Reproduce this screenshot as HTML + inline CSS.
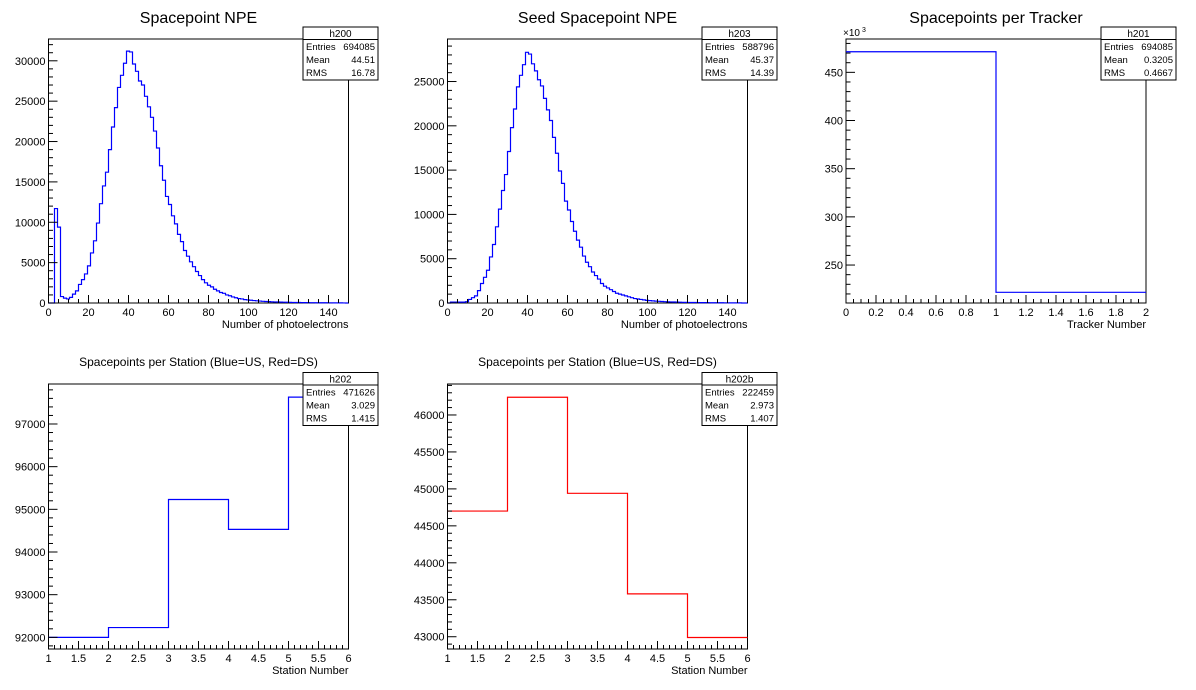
<!DOCTYPE html>
<html><head><meta charset="utf-8">
<style>
html,body{margin:0;padding:0;background:#fff;}
svg{display:block;font-family:"Liberation Sans",Arial,sans-serif;}
</style></head>
<body>
<svg id="canvas" width="1196" height="690" viewBox="0 0 1196 690" xmlns="http://www.w3.org/2000/svg"></svg>
<script>
// ---- data ----
const npeValues = [0,0,11700,9400,800,600,500,700,1100,1500,2300,2900,3600,4600,6200,7700,9900,12300,14500,16200,19000,21800,24200,26700,28200,29700,31200,31100,29600,28700,27500,27000,25600,24300,23000,21300,19200,17000,15200,13200,12200,10800,9800,8500,7600,6500,5800,5100,4500,3900,3400,2900,2500,2200,2000,1700,1500,1300,1200,1000,900,750,650,550,500,420,380,340,300,270,240,210,190,170,150,130,120,110,100,90,80,70,65,60,55,50,45,40,38,35,32,30,28,25,22,20,18,15,10,0];
const seedNpeValues = [0,100,100,100,100,100,150,400,600,800,1400,2200,2900,3700,5200,6600,8600,10600,12700,14500,17100,19800,21900,24400,25700,26900,28300,28100,27000,26200,25200,24500,23100,21800,20600,18700,16900,14900,13500,11500,10500,9200,8100,7100,6300,5300,4600,4100,3500,3100,2700,2200,1900,1700,1500,1300,1100,1000,900,800,700,600,500,450,400,350,300,270,240,210,190,170,150,130,120,110,100,90,80,70,65,60,55,50,45,40,38,35,32,30,28,25,22,20,18,15,12,10,0,0];
const trackerValues = [471.4, 221.7];
const stationUSValues = [92000, 92230, 95230, 94530, 97630];
const stationDSValues = [44700, 46240, 44940, 43580, 42990];
const npeXTicks = [0,20,40,60,80,100,120,140];
const npeYTicks = [0,5000,10000,15000,20000,25000,30000];
const seedYTicks = [0,5000,10000,15000,20000,25000];
const trackerXTicks = [0,0.2,0.4,0.6,0.8,1,1.2,1.4,1.6,1.8,2];
const trackerYTicks = [250,300,350,400,450];
const stationXTicks = [1,1.5,2,2.5,3,3.5,4,4.5,5,5.5,6];
const usYTicks = [92000,93000,94000,95000,96000,97000];
const dsYTicks = [43000,43500,44000,44500,45000,45500,46000];
const statsH200 = ["h200","694085","44.51","16.78"];
const statsH203 = ["h203","588796","45.37","14.39"];
const statsH201 = ["h201","694085","0.3205","0.4667"];
const statsH202 = ["h202","471626","3.029","1.415"];
const statsH202b = ["h202b","222459","2.973","1.407"];

const NS = "http://www.w3.org/2000/svg";
const svg = document.getElementById('canvas');
function mk(tag, attrs, parent, text){
  const e = document.createElementNS(NS, tag);
  for (const k in attrs) e.setAttribute(k, attrs[k]);
  if (text !== undefined) e.textContent = text;
  (parent||svg).appendChild(e);
  return e;
}

function drawPad(c){
  const g = mk('g', {});
  
  
  const fx = c.frame[0], fy = c.frame[1], fw = c.frame[2], fh = c.frame[3];
  const sx = v => fx + (v - c.xmin) / (c.xmax - c.xmin) * fw;
  const sy = v => fy + fh - (v - c.ymin) / (c.ymax - c.ymin) * fh;
  // title
  const t = mk('text', {x: fx + fw/2, y: c.titleY, 'text-anchor':'middle', 'font-size': c.titleSize, fill:'#000'}, g, c.title);
  
  
  // frame
  const fr = mk('rect', {x: fx, y: fy, width: fw, height: fh, fill:'none', stroke:'#000', 'stroke-width':1}, g);
  
  
  // histogram path
  const n = c.values.length, bw = (c.xmax - c.xmin) / n;
  const clampY = v => Math.max(fy, Math.min(fy+fh, sy(v)));
  let d = '';
  for (let i = 0; i < n; i++){
    const x0 = sx(c.xmin + (c.x0off||0) + i*bw), x1 = sx(c.xmin + (i+1)*bw), y = clampY(c.values[i]);
    d += (i === 0 ? 'M' : 'L') + x0.toFixed(2) + ',' + y.toFixed(2) + 'L' + x1.toFixed(2) + ',' + y.toFixed(2);
  }
  const p = mk('path', {d: d, fill:'none', stroke: c.color, 'stroke-width': 1.2}, g);
  
  
  // x ticks
  const xa = mk('g', {}, g);
  
  
  const xstep = c.xTicks[1] - c.xTicks[0];
  const xminor = xstep / c.xSub;
  for (let v = c.xmin; v <= c.xmax + 1e-9; v += xminor){
    const isMaj = c.xTicks.some(tk => Math.abs(tk - v) < 1e-6);
    const X = sx(v);
    mk('line', {x1: X, x2: X, y1: fy+fh, y2: fy+fh-(isMaj?8:4), stroke:'#000', 'stroke-width':1}, xa);
  }
  c.xTicks.forEach(v => {
    const lb = mk('text', {x: sx(v), y: fy+fh+13, 'text-anchor':'middle', 'font-size':11, fill:'#000'}, xa, String(v));
    
    
  });
  const xt = mk('text', {x: fx+fw, y: fy+fh+25, 'text-anchor':'end', 'font-size':11, fill:'#000'}, xa, c.xTitle);
  
  
  // y ticks
  const ya = mk('g', {}, g);
  
  
  const ystep = c.yTicks[1] - c.yTicks[0];
  const yminor = ystep / c.ySub;
  const start = c.yTicks[0] - Math.floor((c.yTicks[0]-c.ymin)/yminor)*yminor;
  for (let v = start; v <= c.ymax + 1e-9; v += yminor){
    const isMaj = c.yTicks.some(tk => Math.abs(tk - v) < 1e-6);
    const Y = sy(v);
    mk('line', {x1: fx, x2: fx+(isMaj?9:4.5), y1: Y, y2: Y, stroke:'#000', 'stroke-width':1}, ya);
  }
  c.yTicks.forEach(v => {
    const lb = mk('text', {x: fx-3, y: sy(v)+4, 'text-anchor':'end', 'font-size':11, fill:'#000'}, ya, String(v));
    
    
  });
  if (c.exp){
    const ex = mk('text', {x: fx-3, y: fy-3, 'font-size':10, fill:'#000'}, ya, '\u00d710');
    
    
    mk('text', {x: fx+16, y: fy-7, 'font-size':7, fill:'#000'}, ya, '3');
  }
  // stats box
  const s = c.stats, bx = c.box[0], by = c.box[1], bwid = 75, bh = 53;
  const sb = mk('g', {}, g);
  
  
  mk('rect', {x: bx, y: by, width: bwid, height: bh, fill:'#fff', stroke:'#000', 'stroke-width':1}, sb);
  mk('line', {x1: bx, x2: bx+bwid, y1: by+12.5, y2: by+12.5, stroke:'#000', 'stroke-width':1}, sb);
  mk('text', {x: bx+bwid/2, y: by+10, 'text-anchor':'middle', 'font-size':10, fill:'#000'}, sb, s[0]);
  const rows = [['Entries', s[1]], ['Mean', s[2]], ['RMS', s[3]]];
  rows.forEach((r, i) => {
    const yy = by + 23 + i*13;
    mk('text', {x: bx+3, y: yy, 'font-size':9.5, fill:'#000'}, sb, r[0]);
    mk('text', {x: bx+bwid-3, y: yy, 'text-anchor':'end', 'font-size':9.5, fill:'#000'}, sb, r[1]);
  });
}

drawPad({name:'spacepoint-npe-pad', title:'Spacepoint NPE', titleY:23, titleSize:16,
  frame:[48.5,39,300,264], xmin:0, xmax:150, ymin:0, ymax:32700, values:npeValues, color:'#0000ff',
  xTicks:npeXTicks, xSub:4, yTicks:npeYTicks, ySub:5, xTitle:'Number of photoelectrons',
  stats:statsH200, box:[303,27]});
drawPad({name:'seed-spacepoint-npe-pad', title:'Seed Spacepoint NPE', titleY:23, titleSize:16,
  frame:[447.5,39,300,264], xmin:0, xmax:150, ymin:0, ymax:29800, values:seedNpeValues, color:'#0000ff',
  xTicks:npeXTicks, xSub:4, yTicks:seedYTicks, ySub:5, xTitle:'Number of photoelectrons',
  stats:statsH203, box:[702,27]});
drawPad({name:'spacepoints-per-tracker-pad', title:'Spacepoints per Tracker', titleY:23, titleSize:16,
  frame:[846,39,300,264], xmin:0, xmax:2, ymin:210.6, ymax:484.6, values:trackerValues, color:'#0000ff',
  xTicks:trackerXTicks, xSub:4, yTicks:trackerYTicks, ySub:5, xTitle:'Tracker Number',
  stats:statsH201, box:[1101,27], exp:true});
drawPad({name:'spacepoints-per-station-us-pad', title:'Spacepoints per Station (Blue=US, Red=DS)', titleY:366, titleSize:12,
  frame:[48.5,384,300,265], xmin:1, xmax:6, ymin:91727, ymax:97937, values:stationUSValues, color:'#0000ff',
  xTicks:stationXTicks, xSub:5, yTicks:usYTicks, ySub:5, xTitle:'Station Number',
  stats:statsH202, box:[303,372.5]});
drawPad({name:'spacepoints-per-station-ds-pad', title:'Spacepoints per Station (Blue=US, Red=DS)', titleY:366, titleSize:12,
  frame:[447.5,384,300,265], xmin:1, xmax:6, ymin:42834, ymax:46419, values:stationDSValues, color:'#ff0000',
  xTicks:stationXTicks, xSub:5, yTicks:dsYTicks, ySub:5, xTitle:'Station Number',
  stats:statsH202b, box:[702,372.5]});
</script>
</body></html>
